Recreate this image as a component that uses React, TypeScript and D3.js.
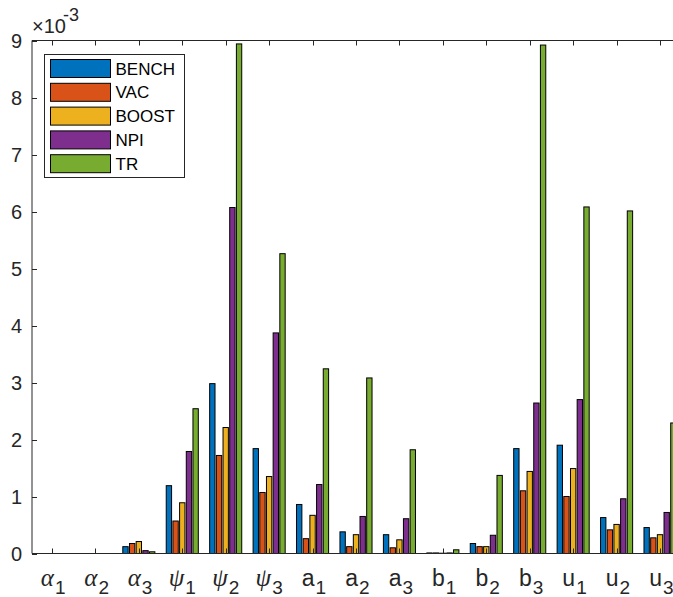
import React from "react";
import * as d3 from "d3";

const categoryBases = ["α", "α", "α", "ψ", "ψ", "ψ", "a", "a", "a", "b", "b", "b", "u", "u", "u"];
const categorySubs = ["1", "2", "3", "1", "2", "3", "1", "2", "3", "1", "2", "3", "1", "2", "3"];

const seriesNames = ["BENCH", "VAC", "BOOST", "NPI", "TR"];
const seriesColors = ["#0072BD", "#D95319", "#EDB120", "#7E2F8E", "#77AC30"];

const bench = [0, 0, 0.12, 1.19, 2.98, 1.84, 0.86, 0.38, 0.33, 0.01, 0.175, 1.84, 1.9, 0.63, 0.455];
const vac = [0, 0, 0.175, 0.57, 1.72, 1.07, 0.26, 0.12, 0.1, 0.01, 0.12, 1.1, 1.0, 0.415, 0.275];
const boost = [0, 0, 0.21, 0.89, 2.21, 1.35, 0.67, 0.33, 0.24, 0.005, 0.12, 1.44, 1.49, 0.51, 0.33];
const npi = [0, 0, 0.05, 1.79, 6.07, 3.87, 1.21, 0.65, 0.61, 0.01, 0.32, 2.64, 2.7, 0.96, 0.72];
const tr = [0, 0, 0.03, 2.54, 8.94, 5.26, 3.24, 3.08, 1.82, 0.065, 1.37, 8.92, 6.08, 6.01, 2.29];

const yTicks = [0, 1, 2, 3, 4, 5, 6, 7, 8, 9];

const W = 673;
const H = 597;
const axisColor = "#262626";
const sansFont = "'Liberation Sans', Arial, Helvetica, sans-serif";
const serifFont = "'Liberation Serif', 'Times New Roman', serif";

export default function App() {
  const left = 32;
  const top = 40.5;
  const bottom = 553.5;
  const x = d3.scaleLinear().domain([0.54, 15.46]).range([left, 680]);
  const y = d3.scaleLinear().domain([0, 9]).range([bottom, top]);

  const unit = x(2) - x(1);
  const groupW = Math.min(0.8, 5 / (5 + 1.5)) * unit;
  const inner = d3
    .scaleBand<string>()
    .domain(seriesNames)
    .range([-groupW / 2, groupW / 2])
    .paddingInner(0.2)
    .paddingOuter(0.1);

  const allSeries = [bench, vac, boost, npi, tr];

  return (
    <svg
      width={W}
      height={H}
      style={{ position: "absolute", left: 0, top: 0, background: "#fff" }}
    >
      {allSeries.map((vals, si) => (
        <g key={si}>
          {vals.map((d, i) => (
            <rect
              key={i}
              x={x(i + 1) + (inner(seriesNames[si]) as number)}
              y={y(d)}
              width={inner.bandwidth()}
              height={y(0) - y(d)}
              fill={seriesColors[si]}
              stroke="#000"
              strokeWidth={1}
            />
          ))}
        </g>
      ))}

      <line x1={left} x2={W} y1={top} y2={top} stroke={axisColor} />
      <line x1={left} x2={W} y1={bottom} y2={bottom} stroke={axisColor} />
      <line x1={left} x2={left} y1={top} y2={bottom} stroke={axisColor} />

      {categoryBases.map((_b, i) => {
        const cx = Math.round(x(i + 1)) + 0.5;
        return (
          <g key={i}>
            <line x1={cx} x2={cx} y1={top} y2={top + 5} stroke={axisColor} />
            <line x1={cx} x2={cx} y1={bottom} y2={bottom - 5} stroke={axisColor} />
          </g>
        );
      })}

      {yTicks.map((t) => {
        const ty = Math.round(y(t)) + 0.5;
        return (
          <g key={t}>
            <line x1={left} x2={left + 5} y1={ty} y2={ty} stroke={axisColor} />
            <text
              x={22}
              y={y(t) + 7}
              textAnchor="end"
              fill={axisColor}
              fontFamily={sansFont}
              fontSize={20}
            >
              {String(t)}
            </text>
          </g>
        );
      })}

      <text x={32} y={33} fill={axisColor} fontFamily={sansFont} fontSize={20}>
        ×10
      </text>
      <text x={63} y={21} fill={axisColor} fontFamily={sansFont} fontSize={18}>
        -3
      </text>

      {categoryBases.map((b, i) => {
        const greek = i < 6;
        const cx = x(i + 1);
        return (
          <g key={i}>
            <text
              x={cx + 2}
              y={586}
              textAnchor="end"
              fill={axisColor}
              fontFamily={greek ? serifFont : sansFont}
              fontStyle={greek ? "italic" : "normal"}
              fontSize={greek ? 25 : 23}
            >
              {b}
            </text>
            <text
              x={cx + 3}
              y={594}
              textAnchor="start"
              fill={axisColor}
              fontFamily={sansFont}
              fontSize={19}
            >
              {categorySubs[i]}
            </text>
          </g>
        );
      })}

      <g>
        <rect x={44.5} y={54.5} width={140} height={123} fill="#fff" stroke={axisColor} />
        {seriesNames.map((name, i) => {
          const cy = 68.5 + i * 23.8;
          return (
            <g key={name}>
              <rect x={50.5} y={cy - 9} width={60} height={18} fill={seriesColors[i]} stroke="#000" />
              <text x={115.5} y={cy + 6} fill="#000" fontFamily={sansFont} fontSize={17}>
                {name}
              </text>
            </g>
          );
        })}
      </g>
    </svg>
  );
}
